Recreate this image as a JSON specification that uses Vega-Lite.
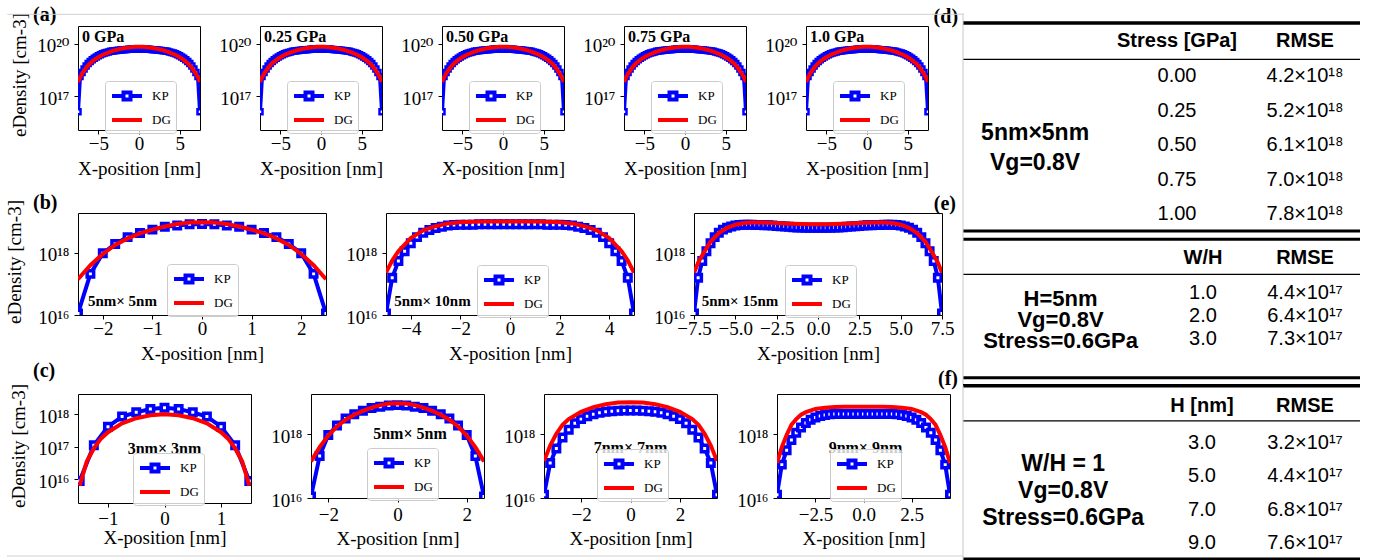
{
"$schema":"https://vega.github.io/schema/vega-lite/v6.json",
"background":"white",
"autosize":{"type":"pad"},
"padding":{"left":5,"top":4,"right":0,"bottom":0},
"datasets":{
"A":[{"x":-7.5,"KP":1.26e16,"DG":6.31e17},{"x":-7.25,"KP":1.32e18,"DG":1.15e18},{"x":-7,"KP":2.24e18,"DG":1.91e18},{"x":-6.75,"KP":3.55e18},{"x":-6.5,"KP":5.25e18,"DG":4.17e18},{"x":-6.25,"KP":7.24e18},{"x":-6,"KP":9.55e18,"DG":7.59e18},{"x":-5.75,"KP":1.2e19},{"x":-5.5,"KP":1.48e19,"DG":1.17e19},{"x":-5.25,"KP":1.74e19},{"x":-5,"KP":2.04e19,"DG":1.66e19},{"x":-4.75,"KP":2.34e19},{"x":-4.5,"KP":2.63e19,"DG":2.24e19},{"x":-4.25,"KP":2.88e19},{"x":-4,"KP":3.16e19,"DG":2.82e19},{"x":-3.75,"KP":3.39e19},{"x":-3.5,"KP":3.63e19,"DG":3.47e19},{"x":-3.25,"KP":3.8e19},{"x":-3,"KP":3.98e19,"DG":4.17e19},{"x":-2.75,"KP":4.07e19},{"x":-2.5,"KP":4.27e19,"DG":4.79e19},{"x":-2.25,"KP":4.37e19},{"x":-2,"KP":4.47e19,"DG":5.37e19},{"x":-1.75,"KP":4.57e19},{"x":-1.5,"KP":4.68e19,"DG":5.89e19},{"x":-1.25,"KP":4.79e19},{"x":-1,"KP":4.9e19,"DG":6.31e19},{"x":-0.75,"KP":4.9e19},{"x":-0.5,"KP":5.01e19,"DG":6.61e19},{"x":-0.25,"KP":5.01e19},{"x":0,"KP":5.01e19,"DG":6.76e19},{"x":0.25,"KP":5.01e19},{"x":0.5,"KP":5.01e19,"DG":6.61e19},{"x":0.75,"KP":4.9e19},{"x":1,"KP":4.9e19,"DG":6.31e19},{"x":1.25,"KP":4.79e19},{"x":1.5,"KP":4.68e19,"DG":5.89e19},{"x":1.75,"KP":4.57e19},{"x":2,"KP":4.47e19,"DG":5.37e19},{"x":2.25,"KP":4.37e19},{"x":2.5,"KP":4.27e19,"DG":4.79e19},{"x":2.75,"KP":4.07e19},{"x":3,"KP":3.98e19,"DG":4.17e19},{"x":3.25,"KP":3.8e19},{"x":3.5,"KP":3.63e19,"DG":3.47e19},{"x":3.75,"KP":3.39e19},{"x":4,"KP":3.16e19,"DG":2.82e19},{"x":4.25,"KP":2.88e19},{"x":4.5,"KP":2.63e19,"DG":2.24e19},{"x":4.75,"KP":2.34e19},{"x":5,"KP":2.04e19,"DG":1.66e19},{"x":5.25,"KP":1.74e19},{"x":5.5,"KP":1.48e19,"DG":1.17e19},{"x":5.75,"KP":1.2e19},{"x":6,"KP":9.55e18,"DG":7.59e18},{"x":6.25,"KP":7.24e18},{"x":6.5,"KP":5.25e18,"DG":4.17e18},{"x":6.75,"KP":3.55e18},{"x":7,"KP":2.24e18,"DG":1.91e18},{"x":7.25,"KP":1.32e18,"DG":1.15e18},{"x":7.5,"KP":1.26e16,"DG":6.31e17}],
"B1":[{"x":-2.5,"KP":1.12e16,"DG":1.41e17},{"x":-2.25,"KP":2.09e17,"DG":3.98e17},{"x":-2,"KP":9.55e17,"DG":9.12e17},{"x":-1.75,"KP":1.91e18,"DG":1.78e18},{"x":-1.5,"KP":3.16e18,"DG":2.88e18},{"x":-1.25,"KP":4.27e18,"DG":4.17e18},{"x":-1,"KP":5.5e18,"DG":5.5e18},{"x":-0.75,"KP":6.76e18,"DG":6.92e18},{"x":-0.5,"KP":7.41e18,"DG":8.32e18},{"x":-0.25,"KP":8.13e18,"DG":9.33e18},{"x":0,"KP":8.32e18,"DG":9.55e18},{"x":0.25,"KP":8.13e18,"DG":9.33e18},{"x":0.5,"KP":7.41e18,"DG":8.32e18},{"x":0.75,"KP":6.76e18,"DG":6.92e18},{"x":1,"KP":5.5e18,"DG":5.5e18},{"x":1.25,"KP":4.27e18,"DG":4.17e18},{"x":1.5,"KP":3.16e18,"DG":2.88e18},{"x":1.75,"KP":1.91e18,"DG":1.78e18},{"x":2,"KP":9.55e17,"DG":9.12e17},{"x":2.25,"KP":2.09e17,"DG":3.98e17},{"x":2.5,"KP":1.12e16,"DG":1.41e17}],
"B2":[{"x":-5,"KP":1.12e16,"DG":2.29e17},{"x":-4.75,"KP":1.58e17,"DG":5.62e17},{"x":-4.5,"KP":5.37e17,"DG":1.12e18},{"x":-4.25,"KP":1.12e18},{"x":-4,"KP":2e18,"DG":2.95e18},{"x":-3.75,"KP":3.16e18},{"x":-3.5,"KP":4.37e18,"DG":5.25e18},{"x":-3.25,"KP":5.37e18},{"x":-3,"KP":6.17e18,"DG":7.08e18},{"x":-2.75,"KP":6.76e18},{"x":-2.5,"KP":7.41e18,"DG":8.71e18},{"x":-2.25,"KP":7.76e18},{"x":-2,"KP":7.94e18,"DG":9.55e18},{"x":-1.75,"KP":7.94e18},{"x":-1.5,"KP":7.94e18,"DG":9.77e18},{"x":-1.25,"KP":8.13e18},{"x":-1,"KP":8.13e18,"DG":1e19},{"x":-0.75,"KP":8.13e18},{"x":-0.5,"KP":8.13e18,"DG":1e19},{"x":-0.25,"KP":8.13e18},{"x":0,"KP":8.13e18,"DG":1e19},{"x":0.25,"KP":8.13e18},{"x":0.5,"KP":8.13e18,"DG":1e19},{"x":0.75,"KP":8.13e18},{"x":1,"KP":8.13e18,"DG":1e19},{"x":1.25,"KP":8.13e18},{"x":1.5,"KP":7.94e18,"DG":9.77e18},{"x":1.75,"KP":7.94e18},{"x":2,"KP":7.94e18,"DG":9.55e18},{"x":2.25,"KP":7.76e18},{"x":2.5,"KP":7.41e18,"DG":8.71e18},{"x":2.75,"KP":6.76e18},{"x":3,"KP":6.17e18,"DG":7.08e18},{"x":3.25,"KP":5.37e18},{"x":3.5,"KP":4.37e18,"DG":5.25e18},{"x":3.75,"KP":3.16e18},{"x":4,"KP":2e18,"DG":2.95e18},{"x":4.25,"KP":1.12e18},{"x":4.5,"KP":5.37e17,"DG":1.12e18},{"x":4.75,"KP":1.58e17,"DG":5.62e17},{"x":5,"KP":1.12e16,"DG":2.29e17}],
"B3":[{"x":-7.5,"KP":1.12e16,"DG":2.29e17},{"x":-7.25,"KP":1.58e17,"DG":4.79e17},{"x":-7,"KP":5.37e17,"DG":8.32e17},{"x":-6.75,"KP":1.12e18},{"x":-6.5,"KP":2e18,"DG":2.24e18},{"x":-6.25,"KP":3.16e18},{"x":-6,"KP":4.37e18,"DG":4.27e18},{"x":-5.75,"KP":5.5e18},{"x":-5.5,"KP":6.31e18,"DG":6.31e18},{"x":-5.25,"KP":6.92e18},{"x":-5,"KP":7.41e18,"DG":7.94e18},{"x":-4.75,"KP":7.76e18},{"x":-4.5,"KP":7.94e18,"DG":8.91e18},{"x":-4.25,"KP":7.94e18},{"x":-4,"KP":7.94e18,"DG":9.33e18},{"x":-3.75,"KP":7.76e18},{"x":-3.5,"KP":7.76e18,"DG":9.33e18},{"x":-3.25,"KP":7.59e18},{"x":-3,"KP":7.59e18,"DG":9.12e18},{"x":-2.75,"KP":7.41e18},{"x":-2.5,"KP":7.24e18,"DG":8.91e18},{"x":-2.25,"KP":7.08e18},{"x":-2,"KP":6.92e18,"DG":8.71e18},{"x":-1.75,"KP":6.76e18},{"x":-1.5,"KP":6.61e18,"DG":8.51e18},{"x":-1.25,"KP":6.46e18},{"x":-1,"KP":6.46e18,"DG":8.32e18},{"x":-0.75,"KP":6.31e18},{"x":-0.5,"KP":6.31e18,"DG":8.13e18},{"x":-0.25,"KP":6.31e18},{"x":0,"KP":6.31e18,"DG":8.13e18},{"x":0.25,"KP":6.31e18},{"x":0.5,"KP":6.31e18,"DG":8.13e18},{"x":0.75,"KP":6.31e18},{"x":1,"KP":6.46e18,"DG":8.32e18},{"x":1.25,"KP":6.46e18},{"x":1.5,"KP":6.61e18,"DG":8.51e18},{"x":1.75,"KP":6.76e18},{"x":2,"KP":6.92e18,"DG":8.71e18},{"x":2.25,"KP":7.08e18},{"x":2.5,"KP":7.24e18,"DG":8.91e18},{"x":2.75,"KP":7.41e18},{"x":3,"KP":7.59e18,"DG":9.12e18},{"x":3.25,"KP":7.59e18},{"x":3.5,"KP":7.76e18,"DG":9.33e18},{"x":3.75,"KP":7.76e18},{"x":4,"KP":7.94e18,"DG":9.33e18},{"x":4.25,"KP":7.94e18},{"x":4.5,"KP":7.94e18,"DG":8.91e18},{"x":4.75,"KP":7.76e18},{"x":5,"KP":7.41e18,"DG":7.94e18},{"x":5.25,"KP":6.92e18},{"x":5.5,"KP":6.31e18,"DG":6.31e18},{"x":5.75,"KP":5.5e18},{"x":6,"KP":4.37e18,"DG":4.27e18},{"x":6.25,"KP":3.16e18},{"x":6.5,"KP":2e18,"DG":2.24e18},{"x":6.75,"KP":1.12e18},{"x":7,"KP":5.37e17,"DG":8.32e17},{"x":7.25,"KP":1.58e17,"DG":4.79e17},{"x":7.5,"KP":1.12e16,"DG":2.29e17}],
"C1":[{"x":-1.5,"KP":8.91e15,"DG":6.31e15},{"x":-1.375,"DG":3.55e16},{"x":-1.25,"KP":1.12e17,"DG":8.91e16},{"x":-1.125,"DG":1.78e17},{"x":-1,"KP":4.17e17,"DG":2.82e17},{"x":-0.75,"KP":8.51e17,"DG":5.25e17},{"x":-0.5,"KP":1.15e18,"DG":7.59e17},{"x":-0.25,"KP":1.45e18,"DG":9.33e17},{"x":0,"KP":1.58e18,"DG":1e18},{"x":0.25,"KP":1.45e18,"DG":9.33e17},{"x":0.5,"KP":1.15e18,"DG":7.59e17},{"x":0.75,"KP":8.51e17,"DG":5.25e17},{"x":1,"KP":4.17e17,"DG":2.82e17},{"x":1.125,"DG":1.78e17},{"x":1.25,"KP":1.12e17,"DG":8.91e16},{"x":1.375,"DG":3.55e16},{"x":1.5,"KP":8.91e15,"DG":6.31e15}],
"C3":[{"x":-3.5,"KP":1.26e16,"DG":1.45e17},{"x":-3.25,"KP":1.26e17,"DG":4.47e17},{"x":-3,"KP":3.63e17,"DG":1.05e18},{"x":-2.75,"KP":7.94e17,"DG":2e18},{"x":-2.5,"KP":1.41e18,"DG":3.02e18},{"x":-2.25,"KP":2.24e18},{"x":-2,"KP":3.02e18,"DG":5.13e18},{"x":-1.75,"KP":3.72e18},{"x":-1.5,"KP":4.27e18,"DG":7.24e18},{"x":-1.25,"KP":4.79e18},{"x":-1,"KP":5.13e18,"DG":8.91e18},{"x":-0.75,"KP":5.37e18},{"x":-0.5,"KP":5.5e18,"DG":1e19},{"x":-0.25,"KP":5.62e18},{"x":0,"KP":5.62e18,"DG":1.02e19},{"x":0.25,"KP":5.62e18},{"x":0.5,"KP":5.5e18,"DG":1e19},{"x":0.75,"KP":5.37e18},{"x":1,"KP":5.13e18,"DG":8.91e18},{"x":1.25,"KP":4.79e18},{"x":1.5,"KP":4.27e18,"DG":7.24e18},{"x":1.75,"KP":3.72e18},{"x":2,"KP":3.02e18,"DG":5.13e18},{"x":2.25,"KP":2.24e18},{"x":2.5,"KP":1.41e18,"DG":3.02e18},{"x":2.75,"KP":7.94e17,"DG":2e18},{"x":3,"KP":3.63e17,"DG":1.05e18},{"x":3.25,"KP":1.26e17,"DG":4.47e17},{"x":3.5,"KP":1.26e16,"DG":1.45e17}],
"C4":[{"x":-4.5,"KP":1.26e16,"DG":1.26e17},{"x":-4.25,"KP":1.12e17,"DG":3.98e17},{"x":-4,"KP":3.16e17,"DG":9.55e17},{"x":-3.75,"KP":6.61e17,"DG":2e18},{"x":-3.5,"KP":1.12e18,"DG":3.02e18},{"x":-3.25,"KP":1.66e18,"DG":4.17e18},{"x":-3,"KP":2.29e18,"DG":5.01e18},{"x":-2.75,"KP":2.88e18},{"x":-2.5,"KP":3.39e18,"DG":6.31e18},{"x":-2.25,"KP":3.8e18},{"x":-2,"KP":4.07e18,"DG":6.92e18},{"x":-1.75,"KP":4.27e18},{"x":-1.5,"KP":4.37e18,"DG":7.24e18},{"x":-1.25,"KP":4.37e18},{"x":-1,"KP":4.37e18,"DG":7.41e18},{"x":-0.75,"KP":4.37e18},{"x":-0.5,"KP":4.37e18,"DG":7.41e18},{"x":-0.25,"KP":4.37e18},{"x":0,"KP":4.37e18,"DG":7.41e18},{"x":0.25,"KP":4.37e18},{"x":0.5,"KP":4.37e18,"DG":7.41e18},{"x":0.75,"KP":4.37e18},{"x":1,"KP":4.37e18,"DG":7.41e18},{"x":1.25,"KP":4.37e18},{"x":1.5,"KP":4.37e18,"DG":7.24e18},{"x":1.75,"KP":4.27e18},{"x":2,"KP":4.07e18,"DG":6.92e18},{"x":2.25,"KP":3.8e18},{"x":2.5,"KP":3.39e18,"DG":6.31e18},{"x":2.75,"KP":2.88e18},{"x":3,"KP":2.29e18,"DG":5.01e18},{"x":3.25,"KP":1.66e18,"DG":4.17e18},{"x":3.5,"KP":1.12e18,"DG":3.02e18},{"x":3.75,"KP":6.61e17,"DG":2e18},{"x":4,"KP":3.16e17,"DG":9.55e17},{"x":4.25,"KP":1.12e17,"DG":3.98e17},{"x":4.5,"KP":1.26e16,"DG":1.26e17}],
"D":[{"r":1,"p":"0.00","v":"4.2×10¹⁸"},{"r":2,"p":"0.25","v":"5.2×10¹⁸"},{"r":3,"p":"0.50","v":"6.1×10¹⁸"},{"r":4,"p":"0.75","v":"7.0×10¹⁸"},{"r":5,"p":"1.00","v":"7.8×10¹⁸"}],
"E":[{"r":1,"p":"1.0","v":"4.4×10¹⁷"},{"r":2,"p":"2.0","v":"6.4×10¹⁷"},{"r":3,"p":"3.0","v":"7.3×10¹⁷"}],
"F":[{"r":1,"p":"3.0","v":"3.2×10¹⁷"},{"r":2,"p":"5.0","v":"4.4×10¹⁷"},{"r":3,"p":"7.0","v":"6.8×10¹⁷"},{"r":4,"p":"9.0","v":"7.6×10¹⁷"}]
},
"bounds":"flush",
"align":"none",
"spacing":187,
"resolve":{"scale":{"color":"independent"},"legend":{"color":"independent"}},
"vconcat":[
{"hconcat":[
{"width":122,"height":104,"data":{"name":"A"},
 "layer":[
  {"mark":{"type":"line","strokeWidth":4,"clip":true,"invalid":"filter"},"encoding":{"x":{"field":"x","type":"quantitative","scale":{"domain":[-7.5,7.5],"nice":false,"zero":false},"axis":{"values":[-5,0,5],"title":"X-position [nm]"}},"y":{"field":"KP","type":"quantitative","scale":{"type":"log","domain":[1.122e15,1.035e21],"nice":false},"axis":{"values":[1e17,1e20],"labelExpr":"datum.value > 1e19 ? '10²⁰' : '10¹⁷'","title":null}},"color":{"datum":"KP","scale":{"domain":["KP","DG"],"range":["#0000ff","#ff0000"]},"legend":{"title":null,"legendX":27,"legendY":55,"encode":{"symbols":{"update":{"shape":{"signal":"datum.value === 'KP' ? 'M-1,0H0.4375M1.3125,0H2.75M0.4375,-0.4375H1.3125V0.4375H0.4375Z' : 'M-1,0H2.75'"},"fill":{"value":"white"},"fillOpacity":{"value":1}}}}}}}},
  {"mark":{"type":"point","shape":"square","filled":true,"fill":"white","stroke":"#0000ff","strokeWidth":2.5,"size":25,"opacity":1,"clip":true,"invalid":"filter"},"encoding":{"x":{"field":"x","type":"quantitative"},"y":{"field":"KP","type":"quantitative"}}},
  {"mark":{"type":"line","strokeWidth":4,"clip":true,"invalid":"filter"},"encoding":{"x":{"field":"x","type":"quantitative"},"y":{"field":"DG","type":"quantitative"},"color":{"datum":"DG"}}},
  {"data":{"values":[{}]},"mark":{"type":"text","text":"0 GPa","font":"Liberation Serif","fontSize":16,"fontWeight":"bold","align":"left","baseline":"middle","color":"black"},"encoding":{"x":{"datum":-7},"y":{"datum":2.4e20}}},
  {"data":{"values":[{}]},"mark":{"type":"text","text":"(a)","font":"Liberation Serif","fontSize":20,"fontWeight":"bold","align":"left","baseline":"middle","color":"black"},"encoding":{"x":{"datum":-13.03},"y":{"datum":4.43e21}}},
  {"data":{"values":[{}]},"mark":{"type":"text","text":"eDensity [cm-3]","angle":270,"font":"Liberation Serif","fontSize":19,"align":"center","baseline":"middle","color":"black"},"encoding":{"x":{"datum":-14.57},"y":{"datum":1.6e18}}}
 ]},
{"width":122,"height":104,"data":{"name":"A"},
 "layer":[
  {"mark":{"type":"line","strokeWidth":4,"clip":true,"invalid":"filter"},"encoding":{"x":{"field":"x","type":"quantitative","scale":{"domain":[-7.5,7.5],"nice":false,"zero":false},"axis":{"values":[-5,0,5],"title":"X-position [nm]"}},"y":{"field":"KP","type":"quantitative","scale":{"type":"log","domain":[1.122e15,1.035e21],"nice":false},"axis":{"values":[1e17,1e20],"labelExpr":"datum.value > 1e19 ? '10²⁰' : '10¹⁷'","title":null}},"color":{"datum":"KP","scale":{"domain":["KP","DG"],"range":["#0000ff","#ff0000"]},"legend":{"title":null,"legendX":27,"legendY":55,"encode":{"symbols":{"update":{"shape":{"signal":"datum.value === 'KP' ? 'M-1,0H0.4375M1.3125,0H2.75M0.4375,-0.4375H1.3125V0.4375H0.4375Z' : 'M-1,0H2.75'"},"fill":{"value":"white"},"fillOpacity":{"value":1}}}}}}}},
  {"mark":{"type":"point","shape":"square","filled":true,"fill":"white","stroke":"#0000ff","strokeWidth":2.5,"size":25,"opacity":1,"clip":true,"invalid":"filter"},"encoding":{"x":{"field":"x","type":"quantitative"},"y":{"field":"KP","type":"quantitative"}}},
  {"mark":{"type":"line","strokeWidth":4,"clip":true,"invalid":"filter"},"encoding":{"x":{"field":"x","type":"quantitative"},"y":{"field":"DG","type":"quantitative"},"color":{"datum":"DG"}}},
  {"data":{"values":[{}]},"mark":{"type":"text","text":"0.25 GPa","font":"Liberation Serif","fontSize":16,"fontWeight":"bold","align":"left","baseline":"middle","color":"black"},"encoding":{"x":{"datum":-7},"y":{"datum":2.4e20}}}
 ]},
{"width":122,"height":104,"data":{"name":"A"},
 "layer":[
  {"mark":{"type":"line","strokeWidth":4,"clip":true,"invalid":"filter"},"encoding":{"x":{"field":"x","type":"quantitative","scale":{"domain":[-7.5,7.5],"nice":false,"zero":false},"axis":{"values":[-5,0,5],"title":"X-position [nm]"}},"y":{"field":"KP","type":"quantitative","scale":{"type":"log","domain":[1.122e15,1.035e21],"nice":false},"axis":{"values":[1e17,1e20],"labelExpr":"datum.value > 1e19 ? '10²⁰' : '10¹⁷'","title":null}},"color":{"datum":"KP","scale":{"domain":["KP","DG"],"range":["#0000ff","#ff0000"]},"legend":{"title":null,"legendX":27,"legendY":55,"encode":{"symbols":{"update":{"shape":{"signal":"datum.value === 'KP' ? 'M-1,0H0.4375M1.3125,0H2.75M0.4375,-0.4375H1.3125V0.4375H0.4375Z' : 'M-1,0H2.75'"},"fill":{"value":"white"},"fillOpacity":{"value":1}}}}}}}},
  {"mark":{"type":"point","shape":"square","filled":true,"fill":"white","stroke":"#0000ff","strokeWidth":2.5,"size":25,"opacity":1,"clip":true,"invalid":"filter"},"encoding":{"x":{"field":"x","type":"quantitative"},"y":{"field":"KP","type":"quantitative"}}},
  {"mark":{"type":"line","strokeWidth":4,"clip":true,"invalid":"filter"},"encoding":{"x":{"field":"x","type":"quantitative"},"y":{"field":"DG","type":"quantitative"},"color":{"datum":"DG"}}},
  {"data":{"values":[{}]},"mark":{"type":"text","text":"0.50 GPa","font":"Liberation Serif","fontSize":16,"fontWeight":"bold","align":"left","baseline":"middle","color":"black"},"encoding":{"x":{"datum":-7},"y":{"datum":2.4e20}}}
 ]},
{"width":122,"height":104,"data":{"name":"A"},
 "layer":[
  {"mark":{"type":"line","strokeWidth":4,"clip":true,"invalid":"filter"},"encoding":{"x":{"field":"x","type":"quantitative","scale":{"domain":[-7.5,7.5],"nice":false,"zero":false},"axis":{"values":[-5,0,5],"title":"X-position [nm]"}},"y":{"field":"KP","type":"quantitative","scale":{"type":"log","domain":[1.122e15,1.035e21],"nice":false},"axis":{"values":[1e17,1e20],"labelExpr":"datum.value > 1e19 ? '10²⁰' : '10¹⁷'","title":null}},"color":{"datum":"KP","scale":{"domain":["KP","DG"],"range":["#0000ff","#ff0000"]},"legend":{"title":null,"legendX":27,"legendY":55,"encode":{"symbols":{"update":{"shape":{"signal":"datum.value === 'KP' ? 'M-1,0H0.4375M1.3125,0H2.75M0.4375,-0.4375H1.3125V0.4375H0.4375Z' : 'M-1,0H2.75'"},"fill":{"value":"white"},"fillOpacity":{"value":1}}}}}}}},
  {"mark":{"type":"point","shape":"square","filled":true,"fill":"white","stroke":"#0000ff","strokeWidth":2.5,"size":25,"opacity":1,"clip":true,"invalid":"filter"},"encoding":{"x":{"field":"x","type":"quantitative"},"y":{"field":"KP","type":"quantitative"}}},
  {"mark":{"type":"line","strokeWidth":4,"clip":true,"invalid":"filter"},"encoding":{"x":{"field":"x","type":"quantitative"},"y":{"field":"DG","type":"quantitative"},"color":{"datum":"DG"}}},
  {"data":{"values":[{}]},"mark":{"type":"text","text":"0.75 GPa","font":"Liberation Serif","fontSize":16,"fontWeight":"bold","align":"left","baseline":"middle","color":"black"},"encoding":{"x":{"datum":-7},"y":{"datum":2.4e20}}}
 ]},
{"width":122,"height":104,"data":{"name":"A"},
 "layer":[
  {"mark":{"type":"line","strokeWidth":4,"clip":true,"invalid":"filter"},"encoding":{"x":{"field":"x","type":"quantitative","scale":{"domain":[-7.5,7.5],"nice":false,"zero":false},"axis":{"values":[-5,0,5],"title":"X-position [nm]"}},"y":{"field":"KP","type":"quantitative","scale":{"type":"log","domain":[1.122e15,1.035e21],"nice":false},"axis":{"values":[1e17,1e20],"labelExpr":"datum.value > 1e19 ? '10²⁰' : '10¹⁷'","title":null}},"color":{"datum":"KP","scale":{"domain":["KP","DG"],"range":["#0000ff","#ff0000"]},"legend":{"title":null,"legendX":27,"legendY":55,"encode":{"symbols":{"update":{"shape":{"signal":"datum.value === 'KP' ? 'M-1,0H0.4375M1.3125,0H2.75M0.4375,-0.4375H1.3125V0.4375H0.4375Z' : 'M-1,0H2.75'"},"fill":{"value":"white"},"fillOpacity":{"value":1}}}}}}}},
  {"mark":{"type":"point","shape":"square","filled":true,"fill":"white","stroke":"#0000ff","strokeWidth":2.5,"size":25,"opacity":1,"clip":true,"invalid":"filter"},"encoding":{"x":{"field":"x","type":"quantitative"},"y":{"field":"KP","type":"quantitative"}}},
  {"mark":{"type":"line","strokeWidth":4,"clip":true,"invalid":"filter"},"encoding":{"x":{"field":"x","type":"quantitative"},"y":{"field":"DG","type":"quantitative"},"color":{"datum":"DG"}}},
  {"data":{"values":[{}]},"mark":{"type":"text","text":"1.0 GPa","font":"Liberation Serif","fontSize":16,"fontWeight":"bold","align":"left","baseline":"middle","color":"black"},"encoding":{"x":{"datum":-7},"y":{"datum":2.4e20}}}
 ]},
{"width":372,"height":104,"view":{"stroke":null},
 "layer":[
  {"data":{"name":"D"},"mark":{"type":"text","font":"Liberation Sans, DejaVu Sans","fontSize":20,"color":"black","align":"center","baseline":"middle"},"encoding":{"x":{"datum":1,"scale":{"domain":[-0.477,2.43],"nice":false,"zero":false},"axis":null},"y":{"field":"r","type":"quantitative","scale":{"domain":[-0.449,2.565],"nice":false,"zero":false,"reverse":true},"axis":null},"text":{"field":"p"}}},
  {"data":{"name":"D"},"mark":{"type":"text","font":"Liberation Sans, DejaVu Sans","fontSize":20,"color":"black","align":"center","baseline":"middle"},"encoding":{"x":{"datum":2,"scale":{"domain":[-0.477,2.43],"nice":false,"zero":false},"axis":null},"y":{"field":"r","type":"quantitative","scale":{"domain":[-0.449,2.565],"nice":false,"zero":false,"reverse":true},"axis":null},"text":{"field":"v"}}},
  {"data":{"values":[{}]},"mark":{"type":"text","text":"Stress [GPa]","font":"Liberation Sans","fontSize":20,"fontWeight":"bold","color":"black","align":"center","baseline":"middle"},"encoding":{"x":{"datum":1,"scale":{"domain":[-0.477,2.43],"nice":false,"zero":false},"axis":null},"y":{"datum":0,"scale":{"domain":[-0.449,2.565],"nice":false,"zero":false,"reverse":true},"axis":null}}},
  {"data":{"values":[{}]},"mark":{"type":"text","text":"RMSE","font":"Liberation Sans","fontSize":20,"fontWeight":"bold","color":"black","align":"center","baseline":"middle"},"encoding":{"x":{"datum":2,"scale":{"domain":[-0.477,2.43],"nice":false,"zero":false},"axis":null},"y":{"datum":0,"scale":{"domain":[-0.449,2.565],"nice":false,"zero":false,"reverse":true},"axis":null}}},
  {"data":{"values":[{}]},"mark":{"type":"text","text":"5nm×5nm\nVg=0.8V","lineBreak":"\n","lineHeight":30,"font":"Liberation Sans","fontSize":23,"fontWeight":"bold","color":"black","align":"center","baseline":"middle"},"encoding":{"x":{"datum":-0.109,"scale":{"domain":[-0.477,2.43],"nice":false,"zero":false},"axis":null},"y":{"datum":2.643,"scale":{"domain":[-0.449,2.565],"nice":false,"zero":false,"reverse":true},"axis":null}}},
  {"data":{"values":[{}]},"mark":{"type":"text","text":"(d)","font":"Liberation Serif","fontSize":20,"fontWeight":"bold","color":"black","align":"right","baseline":"middle"},"encoding":{"x":{"datum":-0.711,"scale":{"domain":[-0.477,2.43],"nice":false,"zero":false},"axis":null},"y":{"datum":-0.71,"scale":{"domain":[-0.449,2.565],"nice":false,"zero":false,"reverse":true},"axis":null}}},
  {"data":{"values":[{}]},"mark":{"type":"rule","color":"black","strokeWidth":3.5},"encoding":{"x":{"datum":-0.672,"scale":{"domain":[-0.477,2.43],"nice":false,"zero":false},"axis":null},"x2":{"datum":2.43},"y":{"datum":-0.536,"scale":{"domain":[-0.449,2.565],"nice":false,"zero":false,"reverse":true},"axis":null}}},
  {"data":{"values":[{}]},"mark":{"type":"rule","color":"black","strokeWidth":1.2},"encoding":{"x":{"datum":-0.672,"scale":{"domain":[-0.477,2.43],"nice":false,"zero":false},"axis":null},"x2":{"datum":2.43},"y":{"datum":0.516,"scale":{"domain":[-0.449,2.565],"nice":false,"zero":false,"reverse":true},"axis":null}}},
  {"data":{"values":[{}]},"mark":{"type":"rule","color":"black","strokeWidth":3},"encoding":{"x":{"datum":-0.672,"scale":{"domain":[-0.477,2.43],"nice":false,"zero":false},"axis":null},"x2":{"datum":2.43},"y":{"datum":5.49,"scale":{"domain":[-0.449,2.565],"nice":false,"zero":false,"reverse":true},"axis":null}}},
  {"data":{"values":[{}]},"mark":{"type":"rule","color":"#c8c8c8","strokeWidth":1},"encoding":{"x":{"datum":-0.672,"scale":{"domain":[-0.477,2.43],"nice":false,"zero":false},"axis":null},"y":{"datum":-0.826,"scale":{"domain":[-0.449,2.565],"nice":false,"zero":false,"reverse":true},"axis":null},"y2":{"datum":5.49}}},
  {"data":{"values":[{}]},"mark":{"type":"rule","color":"#d0d0d0","strokeWidth":1},"encoding":{"x":{"datum":-8.141,"scale":{"domain":[-0.477,2.43],"nice":false,"zero":false},"axis":null},"x2":{"datum":-0.672},"y":{"datum":-0.788,"scale":{"domain":[-0.449,2.565],"nice":false,"zero":false,"reverse":true},"axis":null}}}
 ]}
],"spacing":60,"bounds":"flush","align":"none","resolve":{"scale":{"color":"independent"},"legend":{"color":"independent"}}},
{"vconcat":[
{"hconcat":[
{"width":248,"height":102,"data":{"name":"B1"},
 "layer":[
  {"mark":{"type":"line","strokeWidth":4,"clip":true,"invalid":"filter"},"encoding":{"x":{"field":"x","type":"quantitative","scale":{"domain":[-2.5,2.5],"nice":false,"zero":false},"axis":{"values":[-2,-1,0,1,2],"title":"X-position [nm]"}},"y":{"field":"KP","type":"quantitative","scale":{"type":"log","domain":[1e16,1.88e19],"nice":false},"axis":{"values":[1e16,1e18],"labelExpr":"datum.value > 1e17 ? '10¹⁸' : '10¹⁶'","title":null}},"color":{"datum":"KP","scale":{"domain":["KP","DG"],"range":["#0000ff","#ff0000"]},"legend":{"title":null,"legendX":89,"legendY":51,"encode":{"symbols":{"update":{"shape":{"signal":"datum.value === 'KP' ? 'M-1,0H0.4375M1.3125,0H2.75M0.4375,-0.4375H1.3125V0.4375H0.4375Z' : 'M-1,0H2.75'"},"fill":{"value":"white"},"fillOpacity":{"value":1}}}}}}}},
  {"mark":{"type":"point","shape":"square","filled":true,"fill":"white","stroke":"#0000ff","strokeWidth":3.5,"size":42,"opacity":1,"clip":true,"invalid":"filter"},"encoding":{"x":{"field":"x","type":"quantitative"},"y":{"field":"KP","type":"quantitative"}}},
  {"mark":{"type":"line","strokeWidth":4,"clip":true,"invalid":"filter"},"encoding":{"x":{"field":"x","type":"quantitative"},"y":{"field":"DG","type":"quantitative"},"color":{"datum":"DG"}}},
  {"data":{"values":[{}]},"mark":{"type":"text","text":"5nm× 5nm","font":"Liberation Serif","fontSize":15,"fontWeight":"bold","align":"left","baseline":"middle","color":"black"},"encoding":{"x":{"datum":-2.3},"y":{"datum":2.8e16}}},
  {"data":{"values":[{}]},"mark":{"type":"text","text":"(b)","font":"Liberation Serif","fontSize":20,"fontWeight":"bold","align":"left","baseline":"middle","color":"black"},"encoding":{"x":{"datum":-3.407},"y":{"datum":3.94e19}}},
  {"data":{"values":[{}]},"mark":{"type":"text","text":"eDensity [cm-3]","angle":270,"font":"Liberation Serif","fontSize":19,"align":"center","baseline":"middle","color":"black"},"encoding":{"x":{"datum":-3.77},"y":{"datum":5.02e17}}}
 ]},
{"width":248,"height":102,"data":{"name":"B2"},
 "layer":[
  {"mark":{"type":"line","strokeWidth":4,"clip":true,"invalid":"filter"},"encoding":{"x":{"field":"x","type":"quantitative","scale":{"domain":[-5,5],"nice":false,"zero":false},"axis":{"values":[-4,-2,0,2,4],"title":"X-position [nm]"}},"y":{"field":"KP","type":"quantitative","scale":{"type":"log","domain":[1e16,1.88e19],"nice":false},"axis":{"values":[1e16,1e18],"labelExpr":"datum.value > 1e17 ? '10¹⁸' : '10¹⁶'","title":null}},"color":{"datum":"KP","scale":{"domain":["KP","DG"],"range":["#0000ff","#ff0000"]},"legend":{"title":null,"legendX":91,"legendY":52,"encode":{"symbols":{"update":{"shape":{"signal":"datum.value === 'KP' ? 'M-1,0H0.4375M1.3125,0H2.75M0.4375,-0.4375H1.3125V0.4375H0.4375Z' : 'M-1,0H2.75'"},"fill":{"value":"white"},"fillOpacity":{"value":1}}}}}}}},
  {"mark":{"type":"point","shape":"square","filled":true,"fill":"white","stroke":"#0000ff","strokeWidth":3.5,"size":42,"opacity":1,"clip":true,"invalid":"filter"},"encoding":{"x":{"field":"x","type":"quantitative"},"y":{"field":"KP","type":"quantitative"}}},
  {"mark":{"type":"line","strokeWidth":4,"clip":true,"invalid":"filter"},"encoding":{"x":{"field":"x","type":"quantitative"},"y":{"field":"DG","type":"quantitative"},"color":{"datum":"DG"}}},
  {"data":{"values":[{}]},"mark":{"type":"text","text":"5nm× 10nm","font":"Liberation Serif","fontSize":15,"fontWeight":"bold","align":"left","baseline":"middle","color":"black"},"encoding":{"x":{"datum":-4.67},"y":{"datum":2.8e16}}}
 ]},
{"width":248,"height":102,"data":{"name":"B3"},
 "layer":[
  {"mark":{"type":"line","strokeWidth":4,"clip":true,"invalid":"filter"},"encoding":{"x":{"field":"x","type":"quantitative","scale":{"domain":[-7.5,7.5],"nice":false,"zero":false},"axis":{"values":[-7.5,-5,-2.5,0,2.5,5,7.5],"format":".1f","title":"X-position [nm]"}},"y":{"field":"KP","type":"quantitative","scale":{"type":"log","domain":[1e16,1.88e19],"nice":false},"axis":{"values":[1e16,1e18],"labelExpr":"datum.value > 1e17 ? '10¹⁸' : '10¹⁶'","title":null}},"color":{"datum":"KP","scale":{"domain":["KP","DG"],"range":["#0000ff","#ff0000"]},"legend":{"title":null,"legendX":91,"legendY":52,"encode":{"symbols":{"update":{"shape":{"signal":"datum.value === 'KP' ? 'M-1,0H0.4375M1.3125,0H2.75M0.4375,-0.4375H1.3125V0.4375H0.4375Z' : 'M-1,0H2.75'"},"fill":{"value":"white"},"fillOpacity":{"value":1}}}}}}}},
  {"mark":{"type":"point","shape":"square","filled":true,"fill":"white","stroke":"#0000ff","strokeWidth":3.5,"size":42,"opacity":1,"clip":true,"invalid":"filter"},"encoding":{"x":{"field":"x","type":"quantitative"},"y":{"field":"KP","type":"quantitative"}}},
  {"mark":{"type":"line","strokeWidth":4,"clip":true,"invalid":"filter"},"encoding":{"x":{"field":"x","type":"quantitative"},"y":{"field":"DG","type":"quantitative"},"color":{"datum":"DG"}}},
  {"data":{"values":[{}]},"mark":{"type":"text","text":"5nm× 15nm","font":"Liberation Serif","fontSize":15,"fontWeight":"bold","align":"left","baseline":"middle","color":"black"},"encoding":{"x":{"datum":-7.03},"y":{"datum":2.8e16}}}
 ]},
{"width":358,"height":102,"view":{"stroke":null},
 "layer":[
  {"data":{"name":"E"},"mark":{"type":"text","font":"Liberation Sans, DejaVu Sans","fontSize":20,"color":"black","align":"center","baseline":"middle"},"encoding":{"x":{"datum":1,"scale":{"domain":[-0.971,2.539],"nice":false,"zero":false},"axis":null},"y":{"field":"r","type":"quantitative","scale":{"domain":[-2.478,1.957],"nice":false,"zero":false,"reverse":true},"axis":null},"text":{"field":"p"}}},
  {"data":{"name":"E"},"mark":{"type":"text","font":"Liberation Sans, DejaVu Sans","fontSize":20,"color":"black","align":"center","baseline":"middle"},"encoding":{"x":{"datum":2,"scale":{"domain":[-0.971,2.539],"nice":false,"zero":false},"axis":null},"y":{"field":"r","type":"quantitative","scale":{"domain":[-2.478,1.957],"nice":false,"zero":false,"reverse":true},"axis":null},"text":{"field":"v"}}},
  {"data":{"values":[{}]},"mark":{"type":"text","text":"W/H","font":"Liberation Sans","fontSize":20,"fontWeight":"bold","color":"black","align":"center","baseline":"middle"},"encoding":{"x":{"datum":1,"scale":{"domain":[-0.971,2.539],"nice":false,"zero":false},"axis":null},"y":{"datum":-0.535,"scale":{"domain":[-2.478,1.957],"nice":false,"zero":false,"reverse":true},"axis":null}}},
  {"data":{"values":[{}]},"mark":{"type":"text","text":"RMSE","font":"Liberation Sans","fontSize":20,"fontWeight":"bold","color":"black","align":"center","baseline":"middle"},"encoding":{"x":{"datum":2,"scale":{"domain":[-0.971,2.539],"nice":false,"zero":false},"axis":null},"y":{"datum":-0.535,"scale":{"domain":[-2.478,1.957],"nice":false,"zero":false,"reverse":true},"axis":null}}},
  {"data":{"values":[{}]},"mark":{"type":"text","text":"H=5nm\nVg=0.8V\nStress=0.6GPa","lineBreak":"\n","lineHeight":21,"font":"Liberation Sans","fontSize":22,"fontWeight":"bold","color":"black","align":"center","baseline":"middle"},"encoding":{"x":{"datum":-0.397,"scale":{"domain":[-0.971,2.539],"nice":false,"zero":false},"axis":null},"y":{"datum":1.274,"scale":{"domain":[-2.478,1.957],"nice":false,"zero":false,"reverse":true},"axis":null}}},
  {"data":{"values":[{}]},"mark":{"type":"text","text":"(e)","font":"Liberation Serif","fontSize":20,"fontWeight":"bold","color":"black","align":"right","baseline":"middle"},"encoding":{"x":{"datum":-1.422,"scale":{"domain":[-0.971,2.539],"nice":false,"zero":false},"axis":null},"y":{"datum":-2.891,"scale":{"domain":[-2.478,1.957],"nice":false,"zero":false,"reverse":true},"axis":null}}},
  {"data":{"values":[{}]},"mark":{"type":"rule","color":"black","strokeWidth":3},"encoding":{"x":{"datum":-1.353,"scale":{"domain":[-0.971,2.539],"nice":false,"zero":false},"axis":null},"x2":{"datum":2.539},"y":{"datum":-1.335,"scale":{"domain":[-2.478,1.957],"nice":false,"zero":false,"reverse":true},"axis":null}}},
  {"data":{"values":[{}]},"mark":{"type":"rule","color":"black","strokeWidth":1.2},"encoding":{"x":{"datum":-1.353,"scale":{"domain":[-0.971,2.539],"nice":false,"zero":false},"axis":null},"x2":{"datum":2.539},"y":{"datum":0.187,"scale":{"domain":[-2.478,1.957],"nice":false,"zero":false,"reverse":true},"axis":null}}},
  {"data":{"values":[{}]},"mark":{"type":"rule","color":"black","strokeWidth":3},"encoding":{"x":{"datum":-1.353,"scale":{"domain":[-0.971,2.539],"nice":false,"zero":false},"axis":null},"x2":{"datum":2.539},"y":{"datum":4.683,"scale":{"domain":[-2.478,1.957],"nice":false,"zero":false,"reverse":true},"axis":null}}},
  {"data":{"values":[{}]},"mark":{"type":"rule","color":"#c8c8c8","strokeWidth":1},"encoding":{"x":{"datum":-1.353,"scale":{"domain":[-0.971,2.539],"nice":false,"zero":false},"axis":null},"y":{"datum":-1.696,"scale":{"domain":[-2.478,1.957],"nice":false,"zero":false,"reverse":true},"axis":null},"y2":{"datum":5.0}}}
 ]}
],"spacing":60,"bounds":"flush","align":"none","resolve":{"scale":{"color":"independent"},"legend":{"color":"independent"}}},
{"hconcat":[
{"width":173,"height":109,"data":{"name":"C1"},
 "layer":[
  {"mark":{"type":"line","strokeWidth":4,"clip":true,"invalid":"filter"},"encoding":{"x":{"field":"x","type":"quantitative","scale":{"domain":[-1.53,1.53],"nice":false,"zero":false},"axis":{"values":[-1,0,1],"format":"d","title":"X-position [nm]","labelPadding":2,"titlePadding":0}},"y":{"field":"KP","type":"quantitative","scale":{"type":"log","domain":[1.866e15,4.22e18],"nice":false},"axis":{"values":[1e16,1e17,1e18],"labelExpr":"datum.value > 5e17 ? '10¹⁸' : datum.value > 5e16 ? '10¹⁷' : '10¹⁶'","title":null}},"color":{"datum":"KP","scale":{"domain":["KP","DG"],"range":["#0000ff","#ff0000"]},"legend":{"title":null,"legendX":55,"legendY":59,"encode":{"symbols":{"update":{"shape":{"signal":"datum.value === 'KP' ? 'M-1,0H0.4375M1.3125,0H2.75M0.4375,-0.4375H1.3125V0.4375H0.4375Z' : 'M-1,0H2.75'"},"fill":{"value":"white"},"fillOpacity":{"value":1}}}}}}}},
  {"mark":{"type":"point","shape":"square","filled":true,"fill":"white","stroke":"#0000ff","strokeWidth":3.5,"size":42,"opacity":1,"clip":true,"invalid":"filter"},"encoding":{"x":{"field":"x","type":"quantitative"},"y":{"field":"KP","type":"quantitative"}}},
  {"mark":{"type":"line","strokeWidth":4,"clip":true,"invalid":"filter"},"encoding":{"x":{"field":"x","type":"quantitative"},"y":{"field":"DG","type":"quantitative"},"color":{"datum":"DG"}}},
  {"data":{"values":[{}]},"mark":{"type":"text","text":"3nm× 3nm","font":"Liberation Serif","fontSize":16,"fontWeight":"bold","align":"center","baseline":"middle","color":"black"},"encoding":{"x":{"datum":0},"y":{"datum":8.5e16}}},
  {"data":{"values":[{}]},"mark":{"type":"text","text":"(c)","font":"Liberation Serif","fontSize":20,"fontWeight":"bold","align":"left","baseline":"middle","color":"black"},"encoding":{"x":{"datum":-2.326},"y":{"datum":2.15e19}}},
  {"data":{"values":[{}]},"mark":{"type":"text","text":"eDensity [cm-3]","angle":270,"font":"Liberation Serif","fontSize":19,"align":"center","baseline":"middle","color":"black"},"encoding":{"x":{"datum":-2.565},"y":{"datum":1.06e17}}}
 ]},
{"width":173,"height":104,"data":{"name":"B1"},
 "layer":[
  {"mark":{"type":"line","strokeWidth":4,"clip":true,"invalid":"filter"},"encoding":{"x":{"field":"x","type":"quantitative","scale":{"domain":[-2.5,2.5],"nice":false,"zero":false},"axis":{"values":[-2,0,2],"title":"X-position [nm]","labelPadding":3,"titlePadding":5}},"y":{"field":"KP","type":"quantitative","scale":{"type":"log","domain":[1e16,1.862e19],"nice":false},"axis":{"values":[1e16,1e18],"labelExpr":"datum.value > 1e17 ? '10¹⁸' : '10¹⁶'","title":null}},"color":{"datum":"KP","scale":{"domain":["KP","DG"],"range":["#0000ff","#ff0000"]},"legend":{"title":null,"legendX":56,"legendY":54,"encode":{"symbols":{"update":{"shape":{"signal":"datum.value === 'KP' ? 'M-1,0H0.4375M1.3125,0H2.75M0.4375,-0.4375H1.3125V0.4375H0.4375Z' : 'M-1,0H2.75'"},"fill":{"value":"white"},"fillOpacity":{"value":1}}}}}}}},
  {"mark":{"type":"point","shape":"square","filled":true,"fill":"white","stroke":"#0000ff","strokeWidth":3.5,"size":42,"opacity":1,"clip":true,"invalid":"filter"},"encoding":{"x":{"field":"x","type":"quantitative"},"y":{"field":"KP","type":"quantitative"}}},
  {"mark":{"type":"line","strokeWidth":4,"clip":true,"invalid":"filter"},"encoding":{"x":{"field":"x","type":"quantitative"},"y":{"field":"DG","type":"quantitative"},"color":{"datum":"DG"}}},
  {"data":{"values":[{}]},"mark":{"type":"text","text":"5nm× 5nm","font":"Liberation Serif","fontSize":16,"fontWeight":"bold","align":"center","baseline":"middle","color":"black"},"encoding":{"x":{"datum":0.36},"y":{"datum":1e18}}}
 ]},
{"width":173,"height":104,"data":{"name":"C3"},
 "layer":[
  {"mark":{"type":"line","strokeWidth":4,"clip":true,"invalid":"filter"},"encoding":{"x":{"field":"x","type":"quantitative","scale":{"domain":[-3.5,3.5],"nice":false,"zero":false},"axis":{"values":[-2,0,2],"title":"X-position [nm]","labelPadding":3,"titlePadding":5}},"y":{"field":"KP","type":"quantitative","scale":{"type":"log","domain":[1e16,1.862e19],"nice":false},"axis":{"values":[1e16,1e18],"labelExpr":"datum.value > 1e17 ? '10¹⁸' : '10¹⁶'","title":null}},"color":{"datum":"KP","scale":{"domain":["KP","DG"],"range":["#0000ff","#ff0000"]},"legend":{"title":null,"legendX":53,"legendY":55,"encode":{"symbols":{"update":{"shape":{"signal":"datum.value === 'KP' ? 'M-1,0H0.4375M1.3125,0H2.75M0.4375,-0.4375H1.3125V0.4375H0.4375Z' : 'M-1,0H2.75'"},"fill":{"value":"white"},"fillOpacity":{"value":1}}}}}}}},
  {"mark":{"type":"point","shape":"square","filled":true,"fill":"white","stroke":"#0000ff","strokeWidth":3.5,"size":42,"opacity":1,"clip":true,"invalid":"filter"},"encoding":{"x":{"field":"x","type":"quantitative"},"y":{"field":"KP","type":"quantitative"}}},
  {"mark":{"type":"line","strokeWidth":4,"clip":true,"invalid":"filter"},"encoding":{"x":{"field":"x","type":"quantitative"},"y":{"field":"DG","type":"quantitative"},"color":{"datum":"DG"}}},
  {"data":{"values":[{}]},"mark":{"type":"text","text":"7nm× 7nm","font":"Liberation Serif","fontSize":16,"fontWeight":"bold","align":"center","baseline":"middle","color":"black"},"encoding":{"x":{"datum":0},"y":{"datum":3.7e17}}}
 ]},
{"width":173,"height":104,"data":{"name":"C4"},
 "layer":[
  {"mark":{"type":"line","strokeWidth":4,"clip":true,"invalid":"filter"},"encoding":{"x":{"field":"x","type":"quantitative","scale":{"domain":[-4.5,4.5],"nice":false,"zero":false},"axis":{"values":[-2.5,0,2.5],"format":".1f","title":"X-position [nm]","labelPadding":3,"titlePadding":5}},"y":{"field":"KP","type":"quantitative","scale":{"type":"log","domain":[1e16,1.862e19],"nice":false},"axis":{"values":[1e16,1e18],"labelExpr":"datum.value > 1e17 ? '10¹⁸' : '10¹⁶'","title":null}},"color":{"datum":"KP","scale":{"domain":["KP","DG"],"range":["#0000ff","#ff0000"]},"legend":{"title":null,"legendX":53,"legendY":55,"encode":{"symbols":{"update":{"shape":{"signal":"datum.value === 'KP' ? 'M-1,0H0.4375M1.3125,0H2.75M0.4375,-0.4375H1.3125V0.4375H0.4375Z' : 'M-1,0H2.75'"},"fill":{"value":"white"},"fillOpacity":{"value":1}}}}}}}},
  {"mark":{"type":"point","shape":"square","filled":true,"fill":"white","stroke":"#0000ff","strokeWidth":3.5,"size":42,"opacity":1,"clip":true,"invalid":"filter"},"encoding":{"x":{"field":"x","type":"quantitative"},"y":{"field":"KP","type":"quantitative"}}},
  {"mark":{"type":"line","strokeWidth":4,"clip":true,"invalid":"filter"},"encoding":{"x":{"field":"x","type":"quantitative"},"y":{"field":"DG","type":"quantitative"},"color":{"datum":"DG"}}},
  {"data":{"values":[{}]},"mark":{"type":"text","text":"9nm× 9nm","font":"Liberation Serif","fontSize":16,"fontWeight":"bold","align":"center","baseline":"middle","color":"black"},"encoding":{"x":{"datum":0.1},"y":{"datum":3.7e17}}}
 ]},
{"width":350,"height":104,"view":{"stroke":null},
 "layer":[
  {"data":{"name":"F"},"mark":{"type":"text","font":"Liberation Sans, DejaVu Sans","fontSize":20,"color":"black","align":"center","baseline":"middle"},"encoding":{"x":{"datum":1,"scale":{"domain":[-0.864,2.534],"nice":false,"zero":false},"axis":null},"y":{"field":"r","type":"quantitative","scale":{"domain":[-0.471,2.652],"nice":false,"zero":false,"reverse":true},"axis":null},"text":{"field":"p"}}},
  {"data":{"name":"F"},"mark":{"type":"text","font":"Liberation Sans, DejaVu Sans","fontSize":20,"color":"black","align":"center","baseline":"middle"},"encoding":{"x":{"datum":2,"scale":{"domain":[-0.864,2.534],"nice":false,"zero":false},"axis":null},"y":{"field":"r","type":"quantitative","scale":{"domain":[-0.471,2.652],"nice":false,"zero":false,"reverse":true},"axis":null},"text":{"field":"v"}}},
  {"data":{"values":[{}]},"mark":{"type":"text","text":"H [nm]","font":"Liberation Sans","fontSize":20,"fontWeight":"bold","color":"black","align":"center","baseline":"middle"},"encoding":{"x":{"datum":1,"scale":{"domain":[-0.864,2.534],"nice":false,"zero":false},"axis":null},"y":{"datum":-0.111,"scale":{"domain":[-0.471,2.652],"nice":false,"zero":false,"reverse":true},"axis":null}}},
  {"data":{"values":[{}]},"mark":{"type":"text","text":"RMSE","font":"Liberation Sans","fontSize":20,"fontWeight":"bold","color":"black","align":"center","baseline":"middle"},"encoding":{"x":{"datum":2,"scale":{"domain":[-0.864,2.534],"nice":false,"zero":false},"axis":null},"y":{"datum":-0.111,"scale":{"domain":[-0.471,2.652],"nice":false,"zero":false,"reverse":true},"axis":null}}},
  {"data":{"values":[{}]},"mark":{"type":"text","text":"W/H = 1\nVg=0.8V\nStress=0.6GPa","lineBreak":"\n","lineHeight":27,"font":"Liberation Sans","fontSize":23,"fontWeight":"bold","color":"black","align":"center","baseline":"middle"},"encoding":{"x":{"datum":-0.348,"scale":{"domain":[-0.864,2.534],"nice":false,"zero":false},"axis":null},"y":{"datum":1.64,"scale":{"domain":[-0.471,2.652],"nice":false,"zero":false,"reverse":true},"axis":null}}},
  {"data":{"values":[{}]},"mark":{"type":"text","text":"(f)","font":"Liberation Serif","fontSize":20,"fontWeight":"bold","color":"black","align":"right","baseline":"middle"},"encoding":{"x":{"datum":-1.369,"scale":{"domain":[-0.864,2.534],"nice":false,"zero":false},"axis":null},"y":{"datum":-0.922,"scale":{"domain":[-0.471,2.652],"nice":false,"zero":false,"reverse":true},"axis":null}}},
  {"data":{"values":[{}]},"mark":{"type":"rule","color":"black","strokeWidth":3.5},"encoding":{"x":{"datum":-1.32,"scale":{"domain":[-0.864,2.534],"nice":false,"zero":false},"axis":null},"x2":{"datum":2.534},"y":{"datum":-0.721,"scale":{"domain":[-0.471,2.652],"nice":false,"zero":false,"reverse":true},"axis":null}}},
  {"data":{"values":[{}]},"mark":{"type":"rule","color":"black","strokeWidth":1.2},"encoding":{"x":{"datum":-1.32,"scale":{"domain":[-0.864,2.534],"nice":false,"zero":false},"axis":null},"x2":{"datum":2.534},"y":{"datum":0.339,"scale":{"domain":[-0.471,2.652],"nice":false,"zero":false,"reverse":true},"axis":null}}},
  {"data":{"values":[{}]},"mark":{"type":"rule","color":"black","strokeWidth":3.5},"encoding":{"x":{"datum":-1.32,"scale":{"domain":[-0.864,2.534],"nice":false,"zero":false},"axis":null},"x2":{"datum":2.534},"y":{"datum":4.49,"scale":{"domain":[-0.471,2.652],"nice":false,"zero":false,"reverse":true},"axis":null}}},
  {"data":{"values":[{}]},"mark":{"type":"rule","color":"#c8c8c8","strokeWidth":1},"encoding":{"x":{"datum":-1.32,"scale":{"domain":[-0.864,2.534],"nice":false,"zero":false},"axis":null},"y":{"datum":-0.721,"scale":{"domain":[-0.471,2.652],"nice":false,"zero":false,"reverse":true},"axis":null},"y2":{"datum":4.54}}},
  {"data":{"values":[{}]},"mark":{"type":"rule","color":"#d0d0d0","strokeWidth":1},"encoding":{"x":{"datum":-10.602,"scale":{"domain":[-0.864,2.534],"nice":false,"zero":false},"axis":null},"x2":{"datum":-1.32},"y":{"datum":4.393,"scale":{"domain":[-0.471,2.652],"nice":false,"zero":false,"reverse":true},"axis":null}}}
 ]}
],"spacing":60,"bounds":"flush","align":"none","resolve":{"scale":{"color":"independent"},"legend":{"color":"independent"}}}
],"spacing":181,"bounds":"flush","align":"none","resolve":{"scale":{"color":"independent"},"legend":{"color":"independent"}}}
],
"config":{
 "view":{"stroke":"black","strokeWidth":1},
 "axis":{"grid":false,"domain":false,"ticks":true,"tickColor":"black","tickSize":4,"tickWidth":1,"labelColor":"black","titleColor":"black","labelFont":"Liberation Serif, DejaVu Serif","labelFontSize":19,"titleFont":"Liberation Serif","titleFontSize":19,"titleFontWeight":"normal","labelOverlap":false},
 "axisX":{"labelFlush":false,"labelPadding":0,"titlePadding":6},
 "axisY":{"labelPadding":5,"labelOffset":2},
 "legend":{"orient":"none","direction":"vertical","symbolSize":256,"symbolStrokeWidth":4,"labelFont":"Liberation Serif","labelFontSize":13,"labelColor":"black","labelOffset":22,"padding":5,"rowPadding":2,"fillColor":"rgba(255,255,255,0.8)","strokeColor":"#cccccc","cornerRadius":3}
}
}
